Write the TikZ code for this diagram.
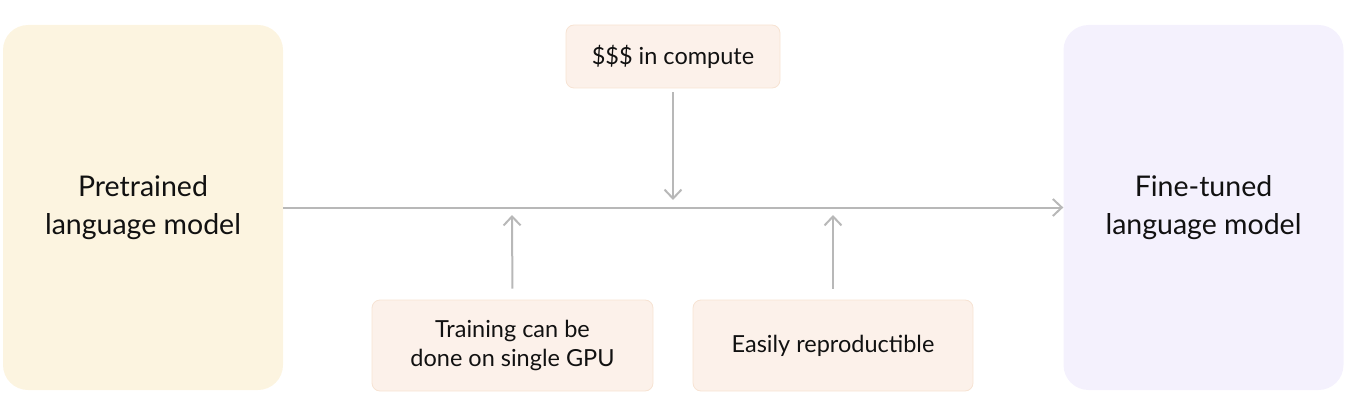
\documentclass[tikz,border=0pt]{standalone}
\usepackage{fontspec}
\setmainfont{Lato}
\usetikzlibrary{arrows.meta}
\definecolor{creamfill}{HTML}{FCF4E0}
\definecolor{lavfill}{HTML}{F4F1FD}
\definecolor{peachfill}{HTML}{FCF1EA}
\definecolor{peachline}{HTML}{F7E3D3}
\definecolor{arrgray}{HTML}{B8B8B8}
\definecolor{txt}{HTML}{111111}
\tikzset{
  bigbox/.style={rounded corners=25pt, minimum width=280pt, minimum height=365pt,
    align=center, font=\fontsize{28.5}{38}\selectfont, text=txt, inner sep=0pt},
  smallbox/.style={rounded corners=8pt, draw=peachline, line width=0.8pt, fill=peachfill,
    align=center, font=\fontsize{23.5}{29}\selectfont, text=txt, inner sep=0pt},
  arr/.style={draw=arrgray, line width=2pt, -{Straight Barb[length=9pt,width=17pt,line width=2pt]}}
}
\begin{document}
\begin{tikzpicture}[x=1pt,y=-1pt]
\useasboundingbox (0,0) rectangle (1357,401);
\node[bigbox, fill=creamfill] (pre) at (143,207.5) {Pretrained\\language model};
\node[bigbox, fill=lavfill] (fine) at (1203.5,207.5) {Fine-tuned\\language model};
\node[smallbox, minimum width=214pt, minimum height=63pt] (cost) at (673,56.5) {\$\$\$ in compute};
\node[smallbox, minimum width=281pt, minimum height=91pt] (gpu) at (512.5,345.5) {Training can be\\done on single GPU};
\node[smallbox, minimum width=280pt, minimum height=91pt] (repro) at (833,345.5) {Easily reproductible};
\coordinate (d1) at (673,200);
\coordinate (u1) at (512,215);
\coordinate (u2) at (833,215);
\draw[arr] (pre.east) -- (fine.west);
\draw[arr, shorten <=4pt] (cost.south) -- (d1);
\draw[arr, shorten <=11pt] (gpu.north) -- (u1);
\draw[arr, shorten <=11pt] (repro.north) -- (u2);
\end{tikzpicture}
\end{document}
